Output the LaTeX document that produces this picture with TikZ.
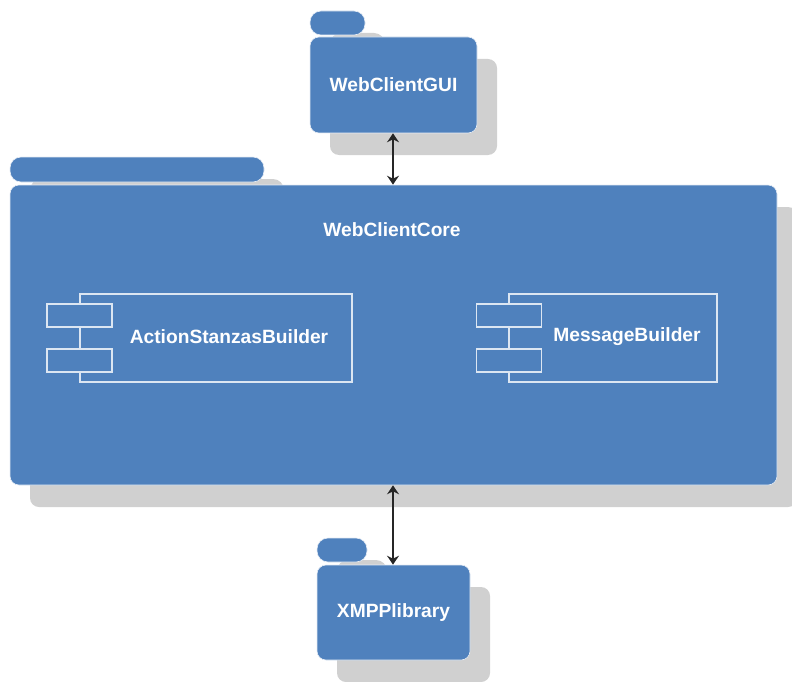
\documentclass[tikz,border=0pt]{standalone}
\usepackage{fontspec}
\setmainfont{Liberation Sans}
\usetikzlibrary{arrows.meta,shadows}
\definecolor{pkgblue}{HTML}{4F81BD}
\definecolor{shadowgrey}{HTML}{D0D0D0}
\definecolor{lineblue}{HTML}{DCE6F2}
\tikzset{
  pkgbase/.style={fill=pkgblue, draw=white!85!pkgblue, line width=0.6pt, inner sep=0pt,
    general shadow={shadow xshift=20pt, shadow yshift=-22pt, fill=shadowgrey, draw=none}},
  pkgbox/.style={pkgbase, rounded corners=9pt, minimum width=#1},
  pkgtab/.style={pkgbase, rounded corners=11pt, minimum width=#1},
  label/.style={text=white, font=\fontsize{19.2}{22}\selectfont\bfseries, inner sep=0pt},
  compbox/.style={draw=lineblue, line width=1.3pt, inner sep=0pt, minimum width=#1, minimum height=88pt},
  compport/.style={draw=lineblue, line width=1.3pt, fill=pkgblue, inner sep=0pt, minimum width=65pt, minimum height=23pt},
  link/.style={draw=black!85, line width=2.8pt, {Stealth[length=9pt,width=12pt]}-{Stealth[length=9pt,width=12pt]}}
}
\begin{document}
\begin{tikzpicture}[x=1pt, y=-1pt]
  \useasboundingbox (0,0) rectangle (792,682);

  % WebClientGUI package
  \node[pkgtab=55pt, minimum height=24pt] (guitab) at (337.5,23) {};
  \node[pkgbox=167pt, minimum height=96pt] (gui) at (393.5,85) {};
  \node[label] (guilabel) at (gui.center) {WebClientGUI};

  % WebClientCore package
  \node[pkgtab=254pt, minimum height=25pt] (coretab) at (137,169.5) {};
  \node[pkgbox=767pt, minimum height=300pt] (core) at (393.5,335) {};
  \node[label] (corelabel) at (392,230) {WebClientCore};

  % ActionStanzasBuilder component
  \node[compbox=272pt] (asb) at (216,338) {};
  \node[compport] (asbp1) at (79.5,315.5) {};
  \node[compport] (asbp2) at (79.5,360.5) {};
  \node[label] (asblabel) at (229,337) {ActionStanzasBuilder};

  % MessageBuilder component
  \node[compbox=208pt] (mb) at (613,338) {};
  \node[compport] (mbp1) at (509,315.5) {};
  \node[compport] (mbp2) at (509,360.5) {};
  \node[label] (mblabel) at (627,337) {MessageBuilder};

  % XMPPlibrary package
  \node[pkgtab=50pt, minimum height=24pt] (xmpptab) at (342,550) {};
  \node[pkgbox=153pt, minimum height=95pt] (xmpp) at (393.5,612.5) {};
  \node[label] (xmpplabel) at (xmpp.center) {XMPPlibrary};

  % dependencies
  \coordinate (guibot) at (gui.south -| 393,0);
  \coordinate (coretop) at (core.north -| 393,0);
  \coordinate (corebot) at (core.south -| 393,0);
  \coordinate (xmpptop) at (xmpp.north -| 393,0);
  \draw[link] (guibot) -- (coretop);
  \draw[link] (corebot) -- (xmpptop);
\end{tikzpicture}
\end{document}
